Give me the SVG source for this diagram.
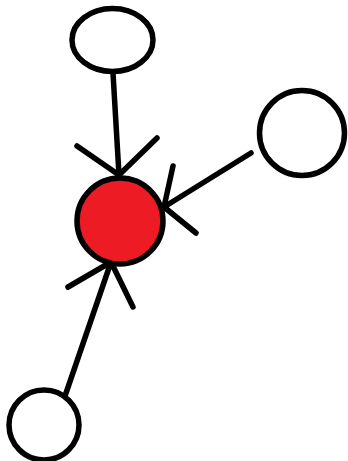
<svg xmlns="http://www.w3.org/2000/svg" width="348" height="461" viewBox="0 0 348 461">
<style>
.n{fill:#fff;stroke:#000;stroke-width:5.5}
.c{fill:none;stroke:#000;stroke-width:5.5;stroke-linecap:round;stroke-linejoin:round}
</style>
<rect width="348" height="461" fill="#fff"/>
<g id="connectors">
<path class="c" d="M113,73 L119,175 M77,146 L119,175 L157,138"/>
<path class="c" d="M251,153 L164,207 M173,166 L164,207 L196,233"/>
<path class="c" d="M65,396 L111,262 M68,287 L111,262 L133,307"/>
</g>
<g id="top"><ellipse class="n" cx="112.5" cy="40" rx="40.5" ry="31.5"/></g>
<g id="right"><circle class="n" cx="302" cy="133" r="42.5"/></g>
<g id="bottom"><circle class="n" cx="44" cy="425" r="35"/></g>
<g id="center"><circle cx="120" cy="221" r="43" fill="#ed1c24" stroke="#000" stroke-width="5.5"/></g>
</svg>
